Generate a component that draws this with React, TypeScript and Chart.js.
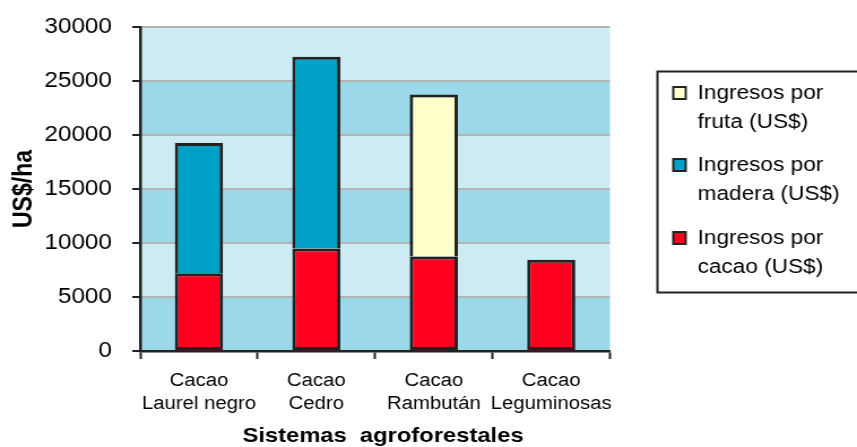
import React, { useEffect, useRef } from "react";
import { Chart, registerables } from "chart.js";
Chart.register(...registerables);

const categories = [
  ["Cacao", "Laurel negro"],
  ["Cacao", "Cedro"],
  ["Cacao", "Rambután"],
  ["Cacao", "Leguminosas"],
];
const cacaoValues = [7200, 9500, 8750, 8450];
const maderaValues = [12050, 17750, null, null];
const frutaValues = [null, null, 15000, null];

const cacaoLegend = ["Ingresos por", "cacao (US$)"];
const maderaLegend = ["Ingresos por", "madera (US$)"];
const frutaLegend = ["Ingresos por", "fruta (US$)"];

const xTitle = "Sistemas  agroforestales";
const yTitle = "US$/ha";

const yMin = 0;
const yMax = 30000;
const yStep = 5000;

// the reference is horizontally stretched; render narrower and stretch
const OUT_W = 857;
const OUT_H = 447;
const CANVAS_W = 758;
const SX = OUT_W / CANVAS_W;

const FONT = "'Liberation Sans', Arial, Helvetica, sans-serif";
const RED = "#ff0020";
const BLUE = "#00a1c8";
const YELLOW = "#ffffcc";
const EDGE = "#222222";
const BAND_DARK = "#9bd9ea";
const BAND_LIGHT = "#cdebf2";

const bandsPlugin = {
  id: "bands",
  beforeDraw(chart: any) {
    const { ctx, chartArea, scales } = chart;
    const y = scales.y;
    ctx.save();
    let i = 0;
    for (let v = yMin; v < yMax; v += yStep) {
      const top = y.getPixelForValue(v + yStep);
      const bot = y.getPixelForValue(v);
      ctx.fillStyle = i % 2 === 0 ? BAND_DARK : BAND_LIGHT;
      ctx.fillRect(chartArea.left, top, chartArea.right - chartArea.left, bot - top);
      i++;
    }
    ctx.restore();
  },
};

const legendPlugin = {
  id: "customLegend",
  afterDraw(chart: any) {
    const { ctx, chartArea } = chart;
    const items = [...chart.data.datasets].reverse();
    const boxX = Math.round(chartArea.right + 41.5) + 0.5;
    const boxY = 71.5;
    const boxW = 240;
    const boxH = 221;
    ctx.save();
    ctx.lineWidth = 2;
    ctx.strokeStyle = EDGE;
    ctx.strokeRect(boxX, boxY, boxW, boxH);
    ctx.font = `20px ${FONT}`;
    ctx.textBaseline = "middle";
    ctx.textAlign = "left";
    const starts = [93, 165, 238];
    items.forEach((ds: any, i: number) => {
      const yc = starts[i];
      ctx.fillStyle = ds.backgroundColor;
      ctx.fillRect(boxX + 14, yc - 6, 11, 12);
      ctx.lineWidth = 2;
      ctx.strokeStyle = EDGE;
      ctx.strokeRect(boxX + 14, yc - 6, 11, 12);
      ctx.fillStyle = "#000";
      ds.legendLines.forEach((line: string, j: number) => {
        ctx.fillText(line, boxX + 35.5, yc + j * 29);
      });
    });
    // x-axis title (slightly right of the plot centre, as in the reference)
    ctx.font = `bold 21px ${FONT}`;
    ctx.textAlign = "center";
    ctx.fillText(xTitle, (chartArea.left + chartArea.right) / 2 + 7, 436);
    ctx.restore();
  },
};

export default function App() {
  const ref = useRef<HTMLCanvasElement | null>(null);
  useEffect(() => {
    document.body.style.margin = "0";
    document.body.style.overflow = "hidden";
    const canvas = ref.current!;
    const common = {
      borderColor: EDGE,
      borderWidth: 3,
      categoryPercentage: 1,
      barPercentage: 0.41,
    };
    const chart = new Chart(canvas, {
      type: "bar",
      data: {
        labels: categories as any,
        datasets: [
          { label: "Ingresos por cacao (US$)", legendLines: cacaoLegend, data: cacaoValues, backgroundColor: RED, borderSkipped: false, ...common } as any,
          { label: "Ingresos por madera (US$)", legendLines: maderaLegend, data: maderaValues, backgroundColor: BLUE, borderSkipped: "bottom", ...common } as any,
          { label: "Ingresos por fruta (US$)", legendLines: frutaLegend, data: frutaValues, backgroundColor: YELLOW, borderSkipped: "bottom", ...common } as any,
        ],
      },
      options: {
        animation: false,
        responsive: true,
        maintainAspectRatio: false,
        layout: { padding: { top: 27, right: 218.5, left: 0, bottom: 0 } },
        plugins: { legend: { display: false }, tooltip: { enabled: false } },
        scales: {
          x: {
            stacked: true,
            afterFit: (s: any) => { s.height = 96; },
            border: { color: EDGE, width: 2.5 },
            grid: { drawOnChartArea: false, drawTicks: true, tickLength: 8, tickColor: EDGE, tickWidth: 2, offset: true },
            ticks: { color: "#000", font: { family: FONT, size: 18, lineHeight: 1.27 }, padding: 11, maxRotation: 0, autoSkip: false },
            title: { display: false },
          },
          y: {
            stacked: true,
            min: yMin,
            max: yMax,
            afterFit: (s: any) => { s.width = 124; },
            border: { color: EDGE, width: 2.5 },
            grid: { color: "#b3b3b3", lineWidth: 2, tickLength: 7, tickColor: EDGE, tickWidth: 2 },
            ticks: { stepSize: yStep, color: "#000", font: { family: FONT, size: 21.5, lineHeight: 0.5 }, padding: 18, callback: (v: any) => String(v) },
            title: { display: true, text: yTitle, color: "#000", font: { family: FONT, size: 23, weight: "bold", lineHeight: 1 }, padding: { top: 10, bottom: 0 } },
          },
        },
      },
      plugins: [bandsPlugin, legendPlugin],
    } as any);
    return () => chart.destroy();
  }, []);
  return (
    <div style={{ width: OUT_W, height: OUT_H, overflow: "hidden", position: "relative" }}>
      <div
        style={{
          width: CANVAS_W,
          height: OUT_H,
          transform: `scaleX(${SX})`,
          transformOrigin: "0 0",
          position: "absolute",
          left: 0,
          top: 0,
        }}
      >
        <canvas ref={ref} />
      </div>
    </div>
  );
}
